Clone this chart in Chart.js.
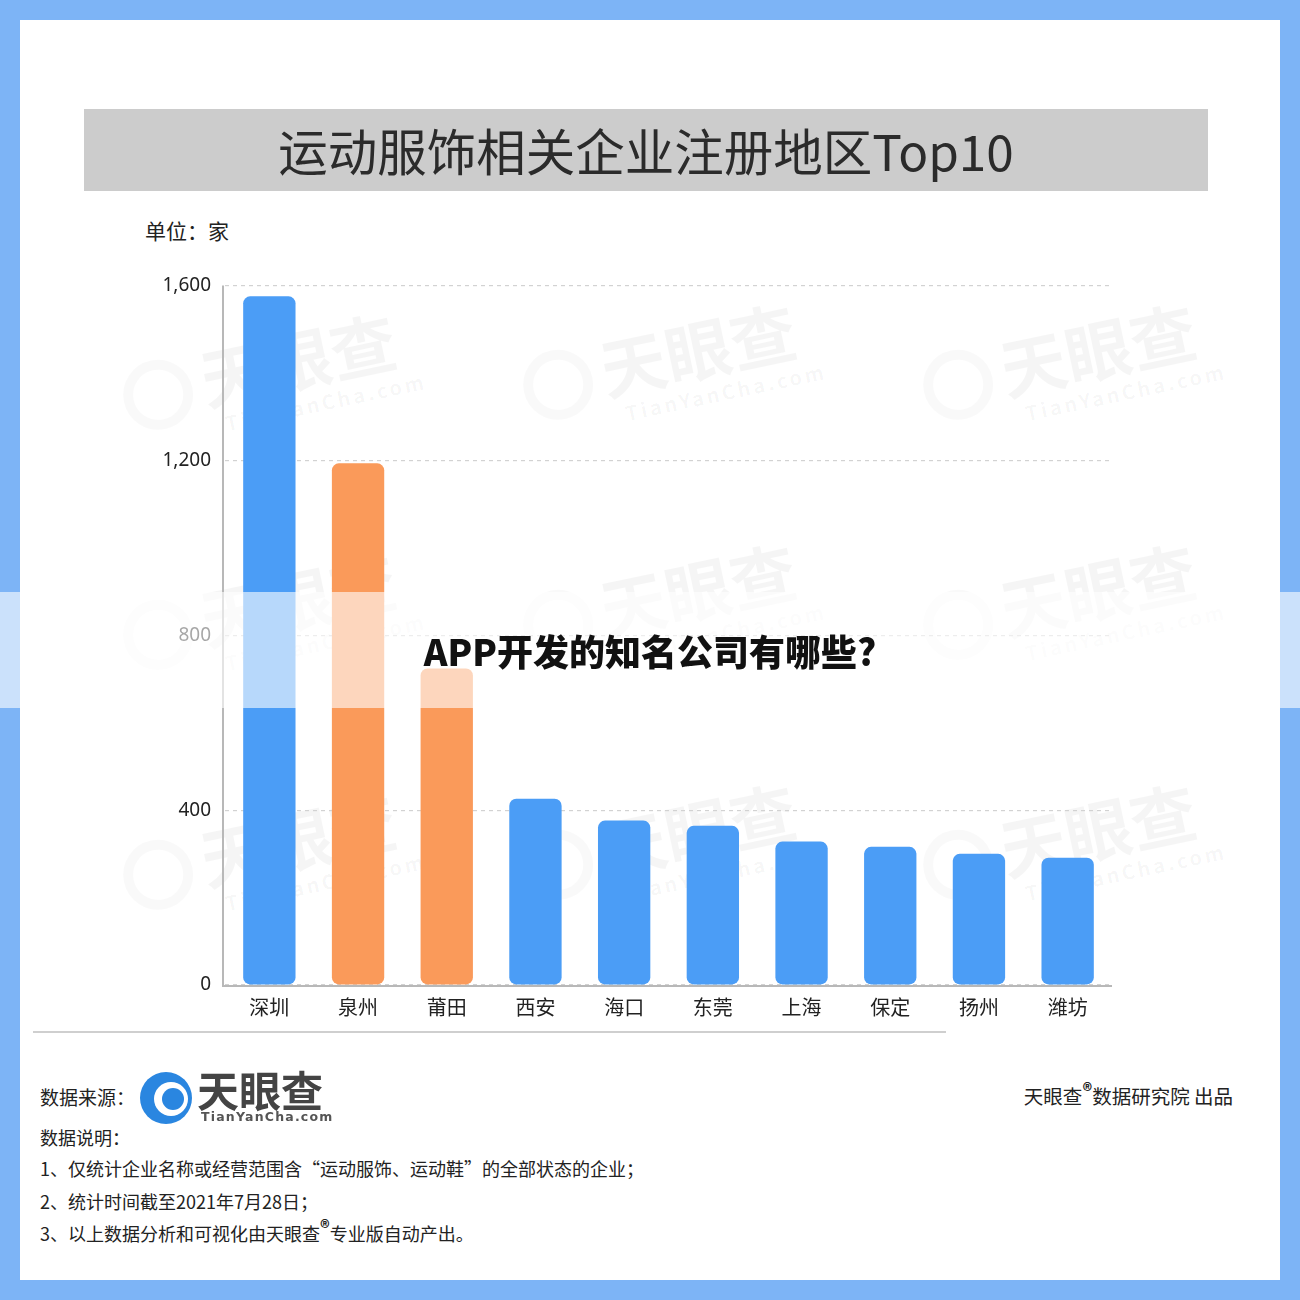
<!DOCTYPE html>
<html>
<head>
<meta charset="utf-8">
<script src="https://cdn.jsdelivr.net/npm/chart.js@4"></script>
<style>
  html, body { margin: 0; padding: 0; }
  body { width: 1300px; height: 1300px; background: #7db4f6; position: relative; overflow: hidden; font-family: "Noto Sans CJK SC", "Noto Sans", sans-serif; }
  .panel { position: absolute; left: 20px; top: 20px; width: 1260px; height: 1260px; background: #ffffff; }
  .title { position: absolute; left: 84px; top: 109px; width: 1124px; height: 82px; background: #cccccc; color: #2b2b2b; font-size: 49.5px; line-height: 82px; text-align: center; }
  .unit { position: absolute; left: 145px; top: 215px; font-size: 21px; color: #222; }
  .wm { position: absolute; color: rgba(0,0,0,0.04); transform: rotate(-12deg); transform-origin: left top; white-space: nowrap; }
  .wm .big { font-size: 66px; font-weight: 700; line-height: 70px; padding-left: 80px; }
  .wm .small { font-size: 20px; font-weight: 700; letter-spacing: 3px; padding-left: 95px; }
  .wm .circ { position: absolute; left: 0; top: 8px; width: 70px; height: 70px; border-radius: 50%; border: 10px solid rgba(0,0,0,0.025); box-sizing: border-box; }
  #c { position: absolute; left: 120px; top: 260px; }
  .hline { position: absolute; left: 33px; top: 1031px; width: 913px; height: 2px; background: #cfcfcf; }
  .src { position: absolute; left: 40px; top: 1083px; font-size: 19px; color: #222; }
  .logo { position: absolute; left: 140px; top: 1070px; width: 200px; height: 56px; }
  .logo .c { position: absolute; left: 0; top: 2px; width: 52px; height: 52px; border-radius: 50%; background: #2a86e0; }
  .logo .c2 { position: absolute; left: 14px; top: 12px; width: 34px; height: 34px; border-radius: 50%; background: #ffffff; }
  .logo .c3 { position: absolute; left: 22px; top: 18px; width: 22px; height: 22px; border-radius: 50%; background: #2a86e0; }
  .logo .t { position: absolute; left: 57px; top: -12px; font-size: 42px; font-weight: 700; color: #444; letter-spacing: 0px; }
  .logo .s { position: absolute; left: 61px; top: 39px; font-size: 12.5px; font-weight: 700; color: #555; letter-spacing: 1.2px; font-family: "DejaVu Sans", sans-serif; }
  .right { position: absolute; right: 67px; top: 1081px; font-size: 19.5px; color: #222; }
  .note { position: absolute; left: 40px; font-size: 18px; color: #222; }
  sup { font-size: 19px; font-weight: 700; vertical-align: 6px; line-height: 0; }
  .band { position: absolute; left: 0; top: 592px; width: 1300px; height: 116px; background: rgba(255,255,255,0.6); }
  .overlay-text { position: absolute; left: 0; top: 624px; width: 1300px; text-align: center; font-size: 36px; font-weight: 900; color: #111; font-family: "Noto Sans CJK SC", sans-serif; }
</style>
</head>
<body>
<div class="panel"></div>
<div class="title">运动服饰相关企业注册地区Top10</div>
<div class="unit">单位：家</div>

<div class="wm" style="left:115px;top:360px;"><div class="circ"></div><div class="big">天眼查</div><div class="small">TianYanCha.com</div></div>
<div class="wm" style="left:515px;top:350px;"><div class="circ"></div><div class="big">天眼查</div><div class="small">TianYanCha.com</div></div>
<div class="wm" style="left:915px;top:350px;"><div class="circ"></div><div class="big">天眼查</div><div class="small">TianYanCha.com</div></div>
<div class="wm" style="left:115px;top:600px;"><div class="circ"></div><div class="big">天眼查</div><div class="small">TianYanCha.com</div></div>
<div class="wm" style="left:515px;top:590px;"><div class="circ"></div><div class="big">天眼查</div><div class="small">TianYanCha.com</div></div>
<div class="wm" style="left:915px;top:590px;"><div class="circ"></div><div class="big">天眼查</div><div class="small">TianYanCha.com</div></div>
<div class="wm" style="left:115px;top:840px;"><div class="circ"></div><div class="big">天眼查</div><div class="small">TianYanCha.com</div></div>
<div class="wm" style="left:515px;top:830px;"><div class="circ"></div><div class="big">天眼查</div><div class="small">TianYanCha.com</div></div>
<div class="wm" style="left:915px;top:830px;"><div class="circ"></div><div class="big">天眼查</div><div class="small">TianYanCha.com</div></div>

<canvas id="c" width="992" height="800"></canvas>

<div class="hline"></div>
<div class="src">数据来源：</div>
<div class="logo"><div class="c"></div><div class="c2"></div><div class="c3"></div><div class="t">天眼查</div><div class="s">TianYanCha.com</div></div>
<div class="right">天眼查<sup>®</sup>数据研究院 出品</div>
<div class="note" style="top:1124px;">数据说明：</div>
<div class="note" style="top:1155px;">1、仅统计企业名称或经营范围含“运动服饰、运动鞋”的全部状态的企业；</div>
<div class="note" style="top:1188px;">2、统计时间截至2021年7月28日；</div>
<div class="note" style="top:1220px;">3、以上数据分析和可视化由天眼查<sup>®</sup>专业版自动产出。</div>

<div class="band"></div>
<div class="overlay-text">APP开发的知名公司有哪些?</div>

<script>
const categories = ["深圳", "泉州", "莆田", "西安", "海口", "东莞", "上海", "保定", "扬州", "潍坊"];
const companyCounts = [1575, 1193, 724, 426, 376, 364, 328, 316, 300, 291];
const highlighted = [false, true, true, false, false, false, false, false, false, false];
const yTicks = [0, 400, 800, 1200, 1600];

const BLUE = "#4b9df6";
const ORANGE = "#fa9a5a";

// solid axis lines drawn separately so that the grid lines can be dashed
const axisLinePlugin = {
  id: "axisLine",
  afterDraw(chart) {
    const { ctx, chartArea: a } = chart;
    ctx.save();
    ctx.setLineDash([]);
    ctx.strokeStyle = "#b8b8b8";
    ctx.lineWidth = 2;
    ctx.beginPath();
    ctx.moveTo(a.left - 2, a.top);
    ctx.lineTo(a.left - 2, a.bottom + 2);
    ctx.moveTo(a.left - 3, a.bottom + 1);
    ctx.lineTo(a.right, a.bottom + 1);
    ctx.stroke();
    ctx.restore();
  }
};

new Chart(document.getElementById("c"), {
  type: "bar",
  data: {
    labels: categories,
    datasets: [{
      data: companyCounts,
      backgroundColor: highlighted.map(h => h ? ORANGE : BLUE),
      borderRadius: 7,
      borderSkipped: false,
      barPercentage: 0.59,
      categoryPercentage: 1
    }]
  },
  plugins: [axisLinePlugin],
  options: {
    responsive: false,
    animation: false,
    layout: { padding: { top: 22, right: 0, left: 0, bottom: 0 } },
    plugins: { legend: { display: false }, tooltip: { enabled: false } },
    scales: {
      x: {
        grid: { display: false, drawTicks: false },
        border: { display: false },
        ticks: { color: "#222", font: { size: 20, family: "Noto Sans CJK SC" }, padding: 10 },
        afterFit: s => { s.height = 75; }
      },
      y: {
        min: 0, max: 1600,
        afterBuildTicks: s => { s.ticks = yTicks.map(v => ({ value: v })); },
        grid: { color: "#d2d2d2", drawTicks: false, lineWidth: 1.2 },
        border: { display: false, dash: [4, 4] },
        ticks: {
          color: "#222", padding: 14,
          font: { size: 19, family: "Noto Sans" },
          callback: v => v.toLocaleString("en-US")
        },
        afterFit: s => { s.width = 105; }
      }
    }
  }
});
</script>
</body>
</html>
